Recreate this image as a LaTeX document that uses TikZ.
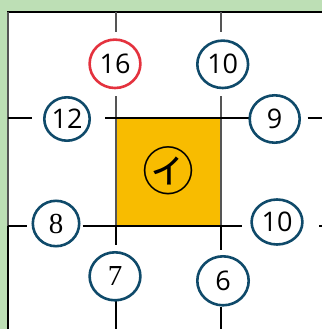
\documentclass[tikz,border=0pt]{standalone}
\usepackage{fontspec}
\setmainfont{Open Sans}
\newfontfamily\serifnum{Liberation Serif}
\newfontfamily\cjk{Noto Sans CJK JP}
\usetikzlibrary{shapes.geometric}
\definecolor{bggreen}{HTML}{BDDFB5}
\definecolor{boxyellow}{HTML}{F8BC00}
\definecolor{ringblue}{HTML}{0F4A6A}
\definecolor{ringred}{HTML}{E4323E}
\definecolor{gridgray}{HTML}{555555}
\tikzset{
  ring/.style={ellipse, draw=ringblue, line width=2.6pt, fill=white, inner sep=0pt,
    font=\fontsize{27}{27}\selectfont},
  redring/.style={ring, draw=ringred},
  blackline/.style={black, line width=2.2pt},
  grayline/.style={gridgray, line width=1.6pt},
}
\begin{document}
\begin{tikzpicture}[x=1pt,y=-1pt]
\useasboundingbox (0,0) rectangle (322,329);
\fill[bggreen] (0,0) rectangle (322,329);
\fill[white] (8,12) rectangle (322,329);
\fill[boxyellow] (116,118) rectangle (221,226);
% borders
\draw[blackline] (7,12) -- (322,12);
\draw[grayline] (8,12) -- (8,226);
\draw[blackline] (8,226) -- (8,329);
% vertical grid lines
\draw[grayline] (116,12) -- (116,32.5);
\draw[grayline] (116,96) -- (116,226);
\draw[blackline] (116,226) -- (116,245);
\draw[blackline] (116,298) -- (116,329);
\draw[grayline] (221,12) -- (221,31.7);
\draw[grayline] (221,96) -- (221,226);
\draw[blackline] (221,226) -- (221,250);
\draw[blackline] (221,306.7) -- (221,329);
% horizontal grid lines
\draw[blackline] (8,118) -- (31.7,118);
\draw[blackline] (105,118) -- (250,118);
\draw[blackline] (307.7,118) -- (322,118);
\draw[blackline] (8,226) -- (27.3,226);
\draw[blackline] (82.7,226) -- (242,226);
\draw[blackline] (319.3,226) -- (322,226);
% circles
\node[redring, minimum width=50.8pt, minimum height=48.4pt] (n16) at (115,63.8) {16};
\node[ring, minimum width=50.8pt, minimum height=47.4pt] (n10a) at (222.7,64.3) {10};
\node[ring, minimum width=45.4pt, minimum height=43.4pt] (n12) at (67,119) {12};
\node[ring, minimum width=50pt, minimum height=47.4pt] (n9) at (274.7,119) {9};
\node[ring, minimum width=46.4pt, minimum height=45.4pt, font=\serifnum\fontsize{29}{29}\selectfont] (n8) at (56,223.5) {8};
\node[ring, minimum width=50.8pt, minimum height=45pt] (n10b) at (277,222) {10};
\node[ring, minimum width=50.8pt, minimum height=48pt, font=\serifnum\fontsize{29}{29}\selectfont] (n7) at (115,276.3) {7};
\node[ring, minimum width=51.4pt, minimum height=49pt] (n6) at (223,280.8) {6};
% centre label
\node[inner sep=0pt, font=\cjk\fontsize{52}{52}\selectfont] (mark) at (168,171) {㋑};
\end{tikzpicture}
\end{document}
